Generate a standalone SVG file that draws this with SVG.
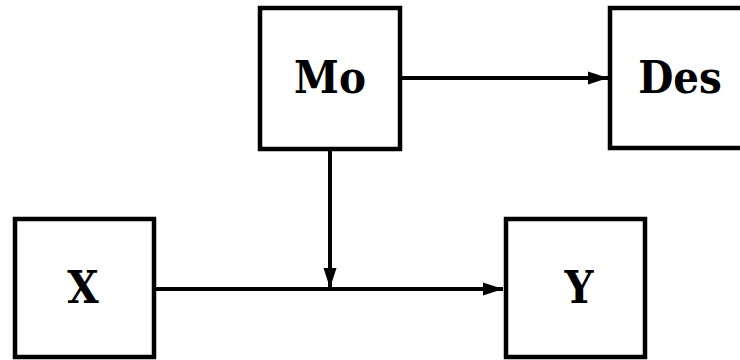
<svg xmlns="http://www.w3.org/2000/svg" width="740" height="360" viewBox="0 0 740 360">
<style>
.box{fill:#fff;stroke:#000;stroke-width:4.5}
.lbl{font-family:"DejaVu Serif Condensed","DejaVu Serif",serif;font-stretch:condensed;font-weight:bold;font-size:45px;text-anchor:middle;fill:#000}
.edge{stroke:#000;stroke-width:4;fill:none}
</style>
<defs>
<marker id="arr" markerUnits="userSpaceOnUse" markerWidth="20" markerHeight="14" refX="20" refY="7" orient="auto">
<path d="M0,0.5 L20,7 L0,13.5 Z" fill="#000"/>
</marker>
</defs>
<rect width="740" height="360" fill="#fff"/>
<g id="connectors">
<path class="edge" d="M400,78 H608" marker-end="url(#arr)"/>
<path class="edge" d="M154,289 H503" marker-end="url(#arr)"/>
<path class="edge" d="M330,149 V288" marker-end="url(#arr)"/>
</g>
<g id="node-mo">
<rect class="box" x="260" y="8" width="140" height="141"/>
<text class="lbl" x="330" y="93">Mo</text>
</g>
<g id="node-des">
<rect class="box" x="610" y="8" width="140" height="140"/>
<text class="lbl" x="680" y="93">Des</text>
</g>
<g id="node-x">
<rect class="box" x="15" y="219" width="139" height="138"/>
<text class="lbl" x="83" y="303">X</text>
</g>
<g id="node-y">
<rect class="box" x="506" y="219" width="139" height="138"/>
<text class="lbl" x="579" y="303">Y</text>
</g>
</svg>
